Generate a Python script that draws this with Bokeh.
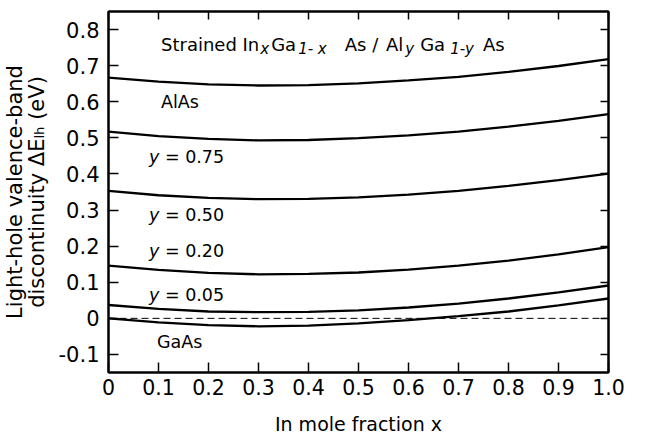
import math
from bokeh.plotting import figure
from bokeh.models import Label, LinearAxis, FixedTicker, Span, Range1d, CustomLabelingPolicy
from bokeh.embed import file_html
from bokeh.resources import INLINE

# ---------------- data ----------------
x_frac = [0.0, 0.1, 0.2, 0.3, 0.4, 0.5, 0.6, 0.7, 0.8, 0.9, 1.0]
alas   = [0.667, 0.656, 0.648, 0.645, 0.646, 0.651, 0.659, 0.669, 0.683, 0.699, 0.718]
y_075  = [0.517, 0.505, 0.497, 0.493, 0.494, 0.499, 0.507, 0.517, 0.531, 0.547, 0.566]
y_050  = [0.353, 0.341, 0.334, 0.330, 0.331, 0.335, 0.343, 0.353, 0.367, 0.383, 0.401]
y_020  = [0.146, 0.134, 0.126, 0.122, 0.123, 0.127, 0.135, 0.146, 0.160, 0.177, 0.197]
y_005  = [0.037, 0.026, 0.019, 0.017, 0.018, 0.022, 0.030, 0.041, 0.055, 0.072, 0.091]
gaas   = [0.000, -0.011, -0.019, -0.022, -0.020, -0.014, -0.005, 0.006, 0.019, 0.036, 0.055]
zero_level = 0.0

x_ticks = [0.0, 0.1, 0.2, 0.3, 0.4, 0.5, 0.6, 0.7, 0.8, 0.9, 1.0]
x_tick_labels = ["0", "0.1", "0.2", "0.3", "0.4", "0.5", "0.6", "0.7", "0.8", "0.9", "1.0"]
y_ticks = [-0.1, 0.0, 0.1, 0.2, 0.3, 0.4, 0.5, 0.6, 0.7, 0.8]
y_tick_labels = ["-0.1", "0", "0.1", "0.2", "0.3", "0.4", "0.5", "0.6", "0.7", "0.8"]

x_title = "In mole fraction x"
y_title = "Light-hole valence-band\ndiscontinuity \u0394E\u2097\u2095 (eV)"

FONT = "DejaVu Sans"

# DejaVu Sans advance widths (em)
DV = {' ': .318, '/': .337, '-': .361, '=': .838, '.': .318, '(': .39, ')': .39,
      '0': .636, '1': .636, '2': .636, '5': .636, '7': .636,
      'A': .684, 'E': .632, 'G': .775, 'I': .295, 'L': .557, 'S': .635, 'V': .684,
      'a': .613, 'b': .635, 'c': .55, 'd': .635, 'e': .615, 'f': .352, 'g': .635,
      'h': .634, 'i': .278, 'l': .278, 'm': .974, 'n': .634, 'o': .612, 'r': .411,
      's': .521, 't': .392, 'u': .634, 'v': .592, 'x': .592, 'y': .592, '\u0394': .684}


def tw(s, size):
    return sum(DV.get(c, 0.6) for c in s) * size


p = figure(frame_width=500, frame_height=361,
           x_range=Range1d(0, 1), y_range=Range1d(-0.15, 0.85),
           output_backend="svg", toolbar_location=None,
           min_border_left=107, min_border_right=42,
           min_border_top=10, min_border_bottom=63,
           background_fill_color="white", border_fill_color="white")

p.xgrid.visible = False
p.ygrid.visible = False
p.outline_line_color = "black"
p.outline_line_width = 2


def style_axis(ax, ticks, labels, show_labels=True, tick_len=10, size="21px"):
    ax.ticker = FixedTicker(ticks=ticks)
    ax.major_tick_in = tick_len
    ax.major_tick_out = 0
    ax.minor_tick_in = 0
    ax.minor_tick_out = 0
    ax.axis_line_width = 2
    ax.axis_line_color = "black"
    ax.major_tick_line_width = 1.5
    ax.major_tick_line_color = "black"
    if show_labels:
        ax.major_label_overrides = {t: l for t, l in zip(ticks, labels)}
        ax.major_label_text_font = FONT
        ax.major_label_text_font_size = size
        ax.major_label_text_color = "black"
    else:
        ax.major_label_policy = CustomLabelingPolicy(code="return new Set()")
        ax.major_label_standoff = 0


xa = p.xaxis[0]
style_axis(xa, x_ticks, x_tick_labels, size="20.5px")
xa.major_label_standoff = 6
xa.axis_label = x_title
xa.axis_label_text_font = FONT
xa.axis_label_text_font_size = "19px"
xa.axis_label_text_font_style = "normal"
xa.axis_label_text_color = "black"
xa.axis_label_text_line_height = 0.9
xa.axis_label_standoff = 15

ya = p.yaxis[0]
style_axis(ya, y_ticks, y_tick_labels, size="21px")
ya.major_label_standoff = 9
ya.axis_label = y_title
ya.axis_label_text_font = FONT
ya.axis_label_text_font_size = "21px"
ya.axis_label_text_font_style = "normal"
ya.axis_label_text_color = "black"
ya.axis_label_text_line_height = 0.88
ya.axis_label_standoff = 7

top = LinearAxis()
style_axis(top, x_ticks, x_tick_labels, show_labels=False, tick_len=8)
p.add_layout(top, "above")
right = LinearAxis()
style_axis(right, y_ticks, y_tick_labels, show_labels=False, tick_len=8)
p.add_layout(right, "right")

# zero reference line
p.add_layout(Span(location=zero_level, dimension="width", line_color="black",
                  line_width=1, line_dash="7 4"))

# curves
for series in [alas, y_075, y_050, y_020, y_005, gaas]:
    p.line(x_frac, series, line_color="black", line_width=2.3)


def add_pieces(x, y, pieces):
    """pieces: (text, size, style, sub_shift_px, gap_before_px)"""
    off = 0.0
    for text, size, style, shift, gap in pieces:
        off += gap
        core = text.strip(" ")
        lead = len(text) - len(text.lstrip(" "))
        trail = len(text) - len(text.rstrip(" "))
        off += lead * DV[' '] * size
        lbl = Label(x=x, y=y, x_offset=off, y_offset=-shift, text=core)
        lbl.text_font = FONT
        lbl.text_font_size = f"{size}px"
        lbl.text_font_style = style
        lbl.text_color = "black"
        lbl.text_align = "left"
        lbl.text_baseline = "alphabetic"
        p.add_layout(lbl)
        off += tw(core, size) + trail * DV[' '] * size


# title-like annotation
add_pieces(0.105, 0.759, [
    ("Strained In", 18, "normal", 0, 0),
    ("x", 15, "italic", 5, 1),
    ("Ga", 18, "normal", 0, 2),
    ("1- x", 15, "italic", 5, 2),
    ("As", 18, "normal", 0, 18),
    (" / ", 18, "normal", 0, 0),
    ("Al", 18, "normal", 0, 2),
    ("y", 15, "italic", 5, 2),
    ("Ga", 18, "normal", 0, 6),
    ("1-y", 15, "italic", 5, 5),
    ("As", 18, "normal", 0, 9),
])

add_pieces(0.105, 0.600, [("AlAs", 17.5, "normal", 0, 0)])
for yy, txt in [(0.446, " = 0.75"), (0.286, " = 0.50"), (0.186, " = 0.20"), (0.064, " = 0.05")]:
    add_pieces(0.081, yy, [("y", 17.5, "italic", 0, 0), (txt, 17.5, "normal", 0, 0)])
add_pieces(0.097, -0.066, [("GaAs", 17.5, "normal", 0, 0)])

open("out.html", "w").write(file_html(p, INLINE))
